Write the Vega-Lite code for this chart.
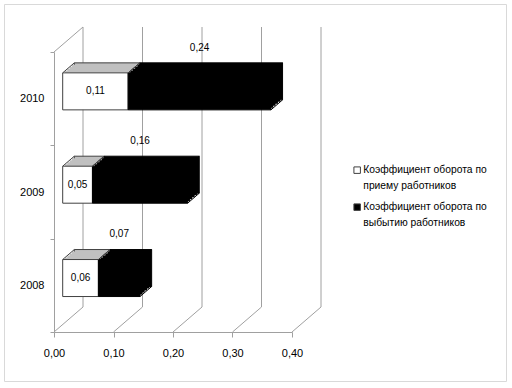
{
  "$schema": "https://vega.github.io/schema/vega-lite/v6.json",
  "width": 238,
  "height": 280,
  "autosize": {"type": "none"},
  "padding": {"left": 54, "top": 52, "right": 220, "bottom": 56},
  "background": "white",
  "config": {
    "view": {"stroke": null},
    "font": "Liberation Sans",
    "style": {"guide-label": {"lineHeight": 16}},
    "axisX": {
      "grid": false, "domainColor": "#a0a0a0", "tickColor": "#a0a0a0", "tickSize": 5, "labelPadding": 10,
      "labelFontSize": 11, "labelColor": "#000000", "labelFlush": false, "labelOverlap": false
    },
    "locale": {"number": {"decimal": ",", "thousands": " ", "grouping": [3], "currency": ["", ""]}}
  },
  "datasets": {
    "bars": [
      {"year": "2008", "series": "Коэффициент оборота по приему работников", "value": 0.06},
      {"year": "2009", "series": "Коэффициент оборота по приему работников", "value": 0.05},
      {"year": "2010", "series": "Коэффициент оборота по приему работников", "value": 0.11},
      {"year": "2008", "series": "Коэффициент оборота по выбытию работников", "value": 0.07},
      {"year": "2009", "series": "Коэффициент оборота по выбытию работников", "value": 0.16},
      {"year": "2010", "series": "Коэффициент оборота по выбытию работников", "value": 0.24}
    ],
    "grid": [{"v": 0}, {"v": 0.1}, {"v": 0.2}, {"v": 0.3}, {"v": 0.4}]
  },
  "layer": [
    {
      "data": {"values": [{}]},
      "mark": {"type": "rect", "fill": null, "stroke": "#d9d9d9", "strokeWidth": 1, "clip": false},
      "encoding": {
        "x": {"value": -49.5},
        "x2": {"value": {"expr": "width + 214.5"}},
        "y": {"value": -47.5},
        "y2": {"value": {"expr": "height + 49.5"}}
      }
    },
    {
      "data": {"name": "grid"},
      "mark": {"type": "rule", "color": "#a0a0a0", "xOffset": 29, "x2Offset": 29, "yOffset": -25, "y2Offset": -25},
      "encoding": {
        "x": {"field": "v", "type": "quantitative", "scale": {"domain": [0, 0.4], "nice": false},
          "axis": {"title": null, "values": [0, 0.1, 0.2, 0.3, 0.4], "format": ".2f"}},
        "x2": {"field": "v"},
        "y": {"value": 0},
        "y2": {"value": {"expr": "height"}}
      }
    },
    {
      "data": {"name": "grid"},
      "mark": {"type": "rule", "color": "#a0a0a0", "x2Offset": 29},
      "encoding": {
        "x": {"field": "v", "type": "quantitative", "axis": {"title": null, "values": [0, 0.1, 0.2, 0.3, 0.4], "format": ".2f"}},
        "x2": {"field": "v"},
        "y": {"value": {"expr": "height"}},
        "y2": {"value": {"expr": "height - 25"}}
      }
    },
    {
      "data": {"name": "grid"},
      "transform": [{"filter": "datum.v == 0"}],
      "mark": {"type": "rule", "color": "#a0a0a0", "x2Offset": 29},
      "encoding": {
        "x": {"field": "v", "type": "quantitative", "axis": {"title": null, "values": [0, 0.1, 0.2, 0.3, 0.4], "format": ".2f"}},
        "x2": {"field": "v"},
        "y": {"value": 0},
        "y2": {"value": -25}
      }
    },
    {
      "data": {"name": "bars"},
      "transform": [
        {"stack": "value", "groupby": ["year"], "sort": [{"field": "series", "order": "descending"}], "as": ["v0", "v1"]},
        {"calculate": "(datum.v0 + datum.v1) / 2", "as": "mid"}
      ],
      "encoding": {
        "y": {
          "field": "year", "type": "nominal", "sort": ["2010", "2009", "2008"],
          "scale": {"paddingInner": 0, "paddingOuter": 0},
          "axis": {
            "title": null, "domainColor": "#a0a0a0", "tickColor": "#a0a0a0", "tickSize": 4,
            "tickBand": "extent", "labelPadding": 6, "labelFontSize": 11, "labelColor": "#000000", "labelAngle": 0
          }
        },
        "x": {"field": "v0", "type": "quantitative", "axis": {"title": null, "values": [0, 0.1, 0.2, 0.3, 0.4], "format": ".2f"}},
        "x2": {"field": "v1"}
      },
      "layer": [
        {
          "mark": {"type": "bar", "height": 37, "xOffset": 20.3, "x2Offset": 20.3, "yOffset": -17.3, "strokeWidth": 1},
          "encoding": {
            "fill": {"condition": {"test": "indexof(datum.series, 'приему') >= 0", "value": "#c0c0c0"}, "value": "#000000"},
            "stroke": {"condition": {"test": "indexof(datum.series, 'приему') >= 0", "value": "#404040"}, "value": "#000000"}
          }
        },
        {
          "mark": {"type": "bar", "height": 37, "xOffset": 18, "x2Offset": 18, "yOffset": -15.3},
          "encoding": {"fill": {"condition": {"test": "indexof(datum.series, 'приему') >= 0", "value": "#c0c0c0"}, "value": "#000000"}}
        },
        {
          "mark": {"type": "bar", "height": 37, "xOffset": 15.7, "x2Offset": 15.7, "yOffset": -13.3},
          "encoding": {"fill": {"condition": {"test": "indexof(datum.series, 'приему') >= 0", "value": "#c0c0c0"}, "value": "#000000"}}
        },
        {
          "mark": {"type": "bar", "height": 37, "xOffset": 13.3, "x2Offset": 13.3, "yOffset": -11.3},
          "encoding": {"fill": {"condition": {"test": "indexof(datum.series, 'приему') >= 0", "value": "#c0c0c0"}, "value": "#000000"}}
        },
        {
          "mark": {"type": "bar", "height": 37, "xOffset": 11, "x2Offset": 11, "yOffset": -9.3},
          "encoding": {"fill": {"condition": {"test": "indexof(datum.series, 'приему') >= 0", "value": "#c0c0c0"}, "value": "#000000"}}
        },
        {
          "mark": {"type": "bar", "height": 37, "xOffset": 8.7, "x2Offset": 8.7, "yOffset": -7.3, "strokeWidth": 1},
          "encoding": {
            "fill": {
              "field": "series", "type": "nominal",
              "scale": {"domain": ["Коэффициент оборота по приему работников", "Коэффициент оборота по выбытию работников"], "range": ["#ffffff", "#000000"]},
              "legend": {
                "orient": "none", "legendX": 298, "legendY": 113, "title": null,
                "symbolType": "square", "symbolSize": 42, "symbolStrokeColor": "#404040", "symbolStrokeWidth": 1,
                "labelFontSize": 10.3, "labelColor": "#000000", "labelLimit": 0, "rowPadding": 9, "labelOffset": 1,
                "labelExpr": "[slice(datum.label, 0, 22), slice(datum.label, 23)]"
              }
            },
            "stroke": {"condition": {"test": "indexof(datum.series, 'приему') >= 0", "value": "#404040"}, "value": "#000000"}
          }
        },
        {
          "mark": {"type": "rule", "color": "#404040", "xOffset": 8.7, "x2Offset": 20.3, "yOffset": -25.8, "y2Offset": -35.8},
          "encoding": {"x": {"field": "v0", "type": "quantitative", "axis": {"title": null, "values": [0, 0.1, 0.2, 0.3, 0.4], "format": ".2f"}}, "x2": {"field": "v0"}, "y2": {"field": "year"}}
        },
        {
          "transform": [{"filter": "indexof(datum.series, 'приему') >= 0"}],
          "mark": {"type": "rule", "color": "#404040", "xOffset": 8.7, "x2Offset": 20.3, "yOffset": -25.8, "y2Offset": -35.8},
          "encoding": {"x": {"field": "v1", "type": "quantitative", "axis": {"title": null, "values": [0, 0.1, 0.2, 0.3, 0.4], "format": ".2f"}}, "x2": {"field": "v1"}, "y2": {"field": "year"}}
        },
        {
          "transform": [{"filter": "indexof(datum.series, 'выбытию') >= 0"}],
          "mark": {"type": "rule", "color": "#000000", "xOffset": 8.7, "x2Offset": 20.3, "yOffset": 11.2, "y2Offset": 1.2},
          "encoding": {"x": {"field": "v1", "type": "quantitative", "axis": {"title": null, "values": [0, 0.1, 0.2, 0.3, 0.4], "format": ".2f"}}, "x2": {"field": "v1"}, "y2": {"field": "year"}}
        },
        {
          "transform": [{"filter": "indexof(datum.series, 'выбытию') >= 0"}],
          "mark": {"type": "rule", "color": "#000000", "xOffset": 8.7, "x2Offset": 20.3, "yOffset": -25.8, "y2Offset": -35.8},
          "encoding": {"x": {"field": "v1", "type": "quantitative", "axis": {"title": null, "values": [0, 0.1, 0.2, 0.3, 0.4], "format": ".2f"}}, "x2": {"field": "v1"}, "y2": {"field": "year"}}
        },
        {
          "transform": [{"filter": "indexof(datum.series, 'приему') >= 0"}],
          "mark": {"type": "text", "fontSize": 10, "color": "#000000", "xOffset": 8.7, "yOffset": -7.3},
          "encoding": {"x": {"field": "mid", "type": "quantitative", "axis": {"title": null, "values": [0, 0.1, 0.2, 0.3, 0.4], "format": ".2f"}}, "x2": null, "text": {"field": "value", "type": "quantitative", "format": ".2f"}}
        },
        {
          "transform": [{"filter": "indexof(datum.series, 'выбытию') >= 0"}],
          "mark": {"type": "text", "fontSize": 10, "color": "#000000", "xOffset": 8.7, "yOffset": -51},
          "encoding": {"x": {"field": "mid", "type": "quantitative", "axis": {"title": null, "values": [0, 0.1, 0.2, 0.3, 0.4], "format": ".2f"}}, "x2": null, "text": {"field": "value", "type": "quantitative", "format": ".2f"}}
        }
      ]
    }
  ]
}
